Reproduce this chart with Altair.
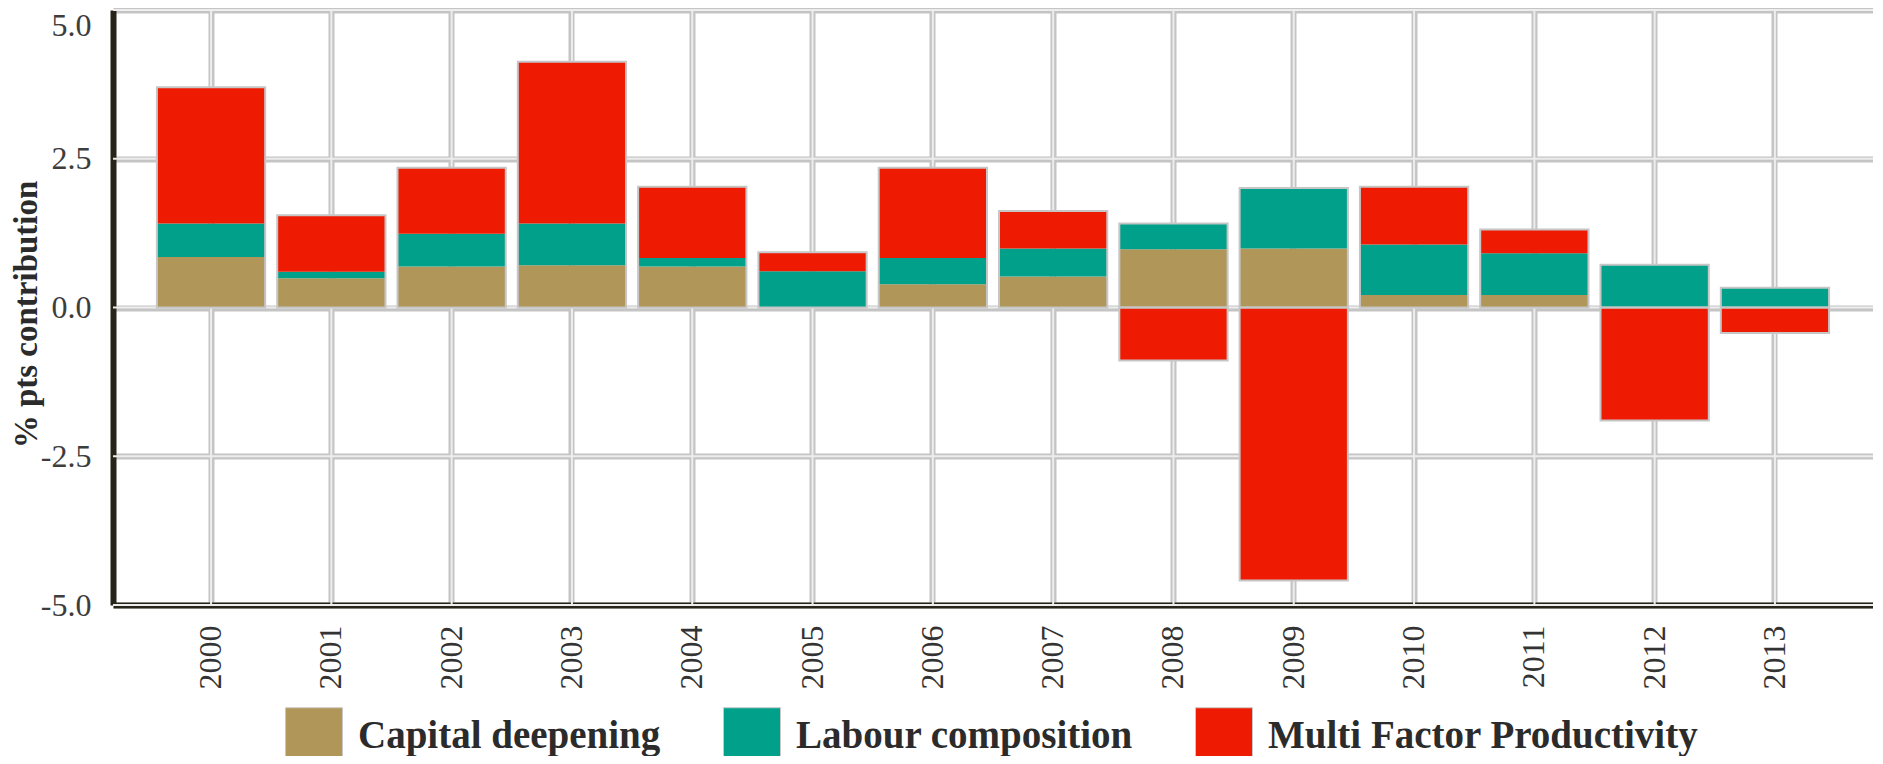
import altair as alt
import pandas as pd

# ---- data (% pts contribution) ----
years = [str(y) for y in range(2000, 2014)]
capital = [0.85, 0.49, 0.69, 0.71, 0.69, 0.00, 0.39, 0.52, 0.98, 0.99, 0.21, 0.21, 0.00, 0.00]
labour = [0.56, 0.11, 0.55, 0.70, 0.14, 0.61, 0.44, 0.47, 0.43, 1.02, 0.85, 0.70, 0.72, 0.33]
mfp = [2.29, 0.95, 1.11, 2.72, 1.20, 0.32, 1.52, 0.63, -0.89, -4.59, 0.97, 0.40, -1.90, -0.43]
series = ["Capital deepening", "Labour composition", "Multi Factor Productivity"]
colors = ["#b09659", "#00a08b", "#ee1a02"]
y_ticks = [-5.0, -2.5, 0.0, 2.5, 5.0]

rows = []
for i, yr in enumerate(years):
    for k, (name, vals) in enumerate(zip(series, [capital, labour, mfp])):
        rows.append({"year": yr, "series": name, "order": k, "value": vals[i]})
df = pd.DataFrame(rows)

FONT = "Liberation Serif"
DOMAIN = "#27241a"

x_scale = alt.Scale(domain=years, paddingInner=0.1, paddingOuter=0.365)
y_scale = alt.Scale(domain=[-5, 5], nice=False, zero=False)

x_axis = alt.Axis(
    title=None, labelAngle=-90, labelFont=FONT, labelFontSize=32, labelColor="#333333",
    labelPadding=20, ticks=False, domainColor=DOMAIN, domainWidth=6,
    grid=True, gridColor="#c4c4c4", gridWidth=6,
)
y_axis = alt.Axis(
    title="% pts contribution", values=y_ticks,
    labelExpr="replace(format(datum.value, '.1f'), '\u2212', '-')",
    labelFont=FONT, labelFontSize=32, labelColor="#3d3d3d", labelPadding=22,
    labelBaseline={"condition": {"test": "datum.value >= 5", "value": "top"}, "value": "middle"},
    ticks=False, domainColor=DOMAIN, domainWidth=6,
    grid=True, gridColor="#c4c4c4", gridWidth=6,
    titleFont=FONT, titleFontSize=33, titleFontWeight="bold", titleColor="#2b2b2b",
    titleAngle=270, titleAlign="center", titleBaseline="middle",
    titleX=-87, titleY=304,
)

X = alt.X("year:N", scale=x_scale, axis=x_axis, sort=years)


def Y(field, **kw):
    return alt.Y(field, scale=y_scale, axis=y_axis, **kw)


xrules = alt.Chart(pd.DataFrame({"year": years})).mark_rule(
    color="#ededed", strokeWidth=2
).encode(x=X)
yrules = alt.Chart(pd.DataFrame({"value": y_ticks})).mark_rule(
    color="#ededed", strokeWidth=2
).encode(y=Y("value:Q"))

bars = alt.Chart(df).mark_bar(strokeWidth=0).encode(
    x=X,
    y=Y("value:Q", stack="zero"),
    color=alt.Color(
        "series:N",
        scale=alt.Scale(domain=series, range=colors),
        legend=alt.Legend(
            orient="none", legendX=172, legendY=697, direction="horizontal", columns=3,
            title=None, labelFont=FONT, labelFontSize=39, labelFontWeight="bold",
            labelColor="#2b2b2b", labelLimit=1000, labelOffset=15, columnPadding=60,
            symbolType="square", symbolSize=3249, symbolStrokeColor="#c8c8c8",
            symbolStrokeWidth=1, padding=0,
        ),
    ),
    order=alt.Order("order:Q", sort="ascending"),
)

outline_base = alt.Chart(df).transform_calculate(
    pos="max(datum.value, 0)", neg="min(datum.value, 0)"
).transform_aggregate(pos="sum(pos)", neg="sum(neg)", groupby=["year"])

pos_outline = outline_base.mark_bar(
    fillOpacity=0, stroke="#c6c6c6", strokeWidth=2
).encode(x=X, y=Y("pos:Q"), y2=alt.datum(0))

neg_outline = outline_base.transform_filter("datum.neg < 0").mark_bar(
    fillOpacity=0, stroke="#c6c6c6", strokeWidth=2
).encode(x=X, y=Y("neg:Q"), y2=alt.datum(0))

chart = alt.layer(xrules, yrules, bars, pos_outline, neg_outline).properties(
    width=1760,
    height=595,
    padding={"left": 105, "top": 2, "right": 0, "bottom": 151},
    autosize=alt.AutoSizeParams(type="none"),
    background="white",
).configure_view(stroke=None)

chart.save("out.html", embed_options={"renderer": "svg", "actions": False})
